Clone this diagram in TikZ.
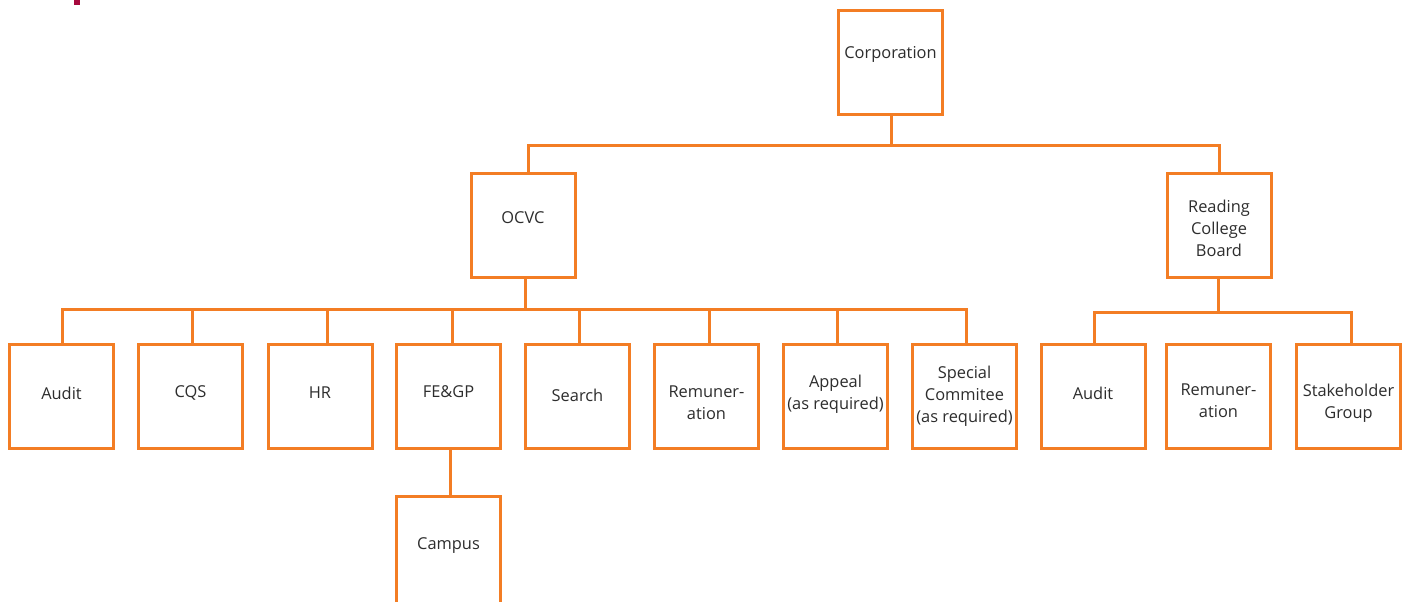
\documentclass[tikz,border=0pt]{standalone}
\usepackage{fontspec}
\setmainfont{Open Sans}
\definecolor{orng}{RGB}{243,125,36}
\definecolor{txtc}{RGB}{45,45,45}
\definecolor{markred}{RGB}{166,9,61}
\tikzset{
  box/.style={draw=orng, line width=2.25pt, minimum width=78pt, minimum height=78pt, inner sep=0pt, fill=white},
  lbl/.style={text=txtc, font=\fontsize{12.3}{16.5}\selectfont, align=center, inner sep=0pt},
  conn/.style={draw=orng, line width=2.25pt, line join=miter}
}
\begin{document}
\begin{tikzpicture}[x=0.75pt, y=-0.75pt]
\useasboundingbox (0,0) rectangle (1407,601);
\clip (0,0) rectangle (1407,601);
\fill[markred] (74,0) rectangle (80,4.5);

% boxes
\node[box] (corp) at (890.5,62.5) {};
\node[box] (ocvc) at (523,225) {};
\node[box] (rcb)  at (1219,225) {};
\node[box] (aud)  at (61.5,396.5) {};
\node[box] (cqs)  at (190.5,396.5) {};
\node[box] (hr)   at (320,396.5) {};
\node[box] (fegp) at (448.5,396.5) {};
\node[box] (srch) at (577.5,396.5) {};
\node[box] (rem)  at (706.5,396.5) {};
\node[box] (app)  at (835.5,396.5) {};
\node[box] (spc)  at (964.5,396.5) {};
\node[box] (raud) at (1093,396.5) {};
\node[box] (rrem) at (1218.5,396.5) {};
\node[box] (stk)  at (1348.5,396.5) {};
\node[box, minimum height=90pt] (camp) at (448.5,556.5) {};

% labels
\node[lbl] (corpT) at (890.5,54) {Corporation};
\node[lbl] (ocvcT) at (523,218) {OCVC};
\node[lbl] (rcbT)  at (1219,228.5) {Reading\\College\\Board};
\node[lbl] (audT)  at (61.5,393) {Audit};
\node[lbl] (cqsT)  at (190.5,393) {CQS};
\node[lbl] (hrT)   at (320,393) {HR};
\node[lbl] (fegpT) at (448.5,392) {FE\&GP};
\node[lbl] (srchT) at (577.5,395) {Search};
\node[lbl] (remT)  at (706.5,403) {Remuner-\\ation};
\node[lbl] (appT)  at (835.5,394) {Appeal\\(as required)};
\node[lbl] (spcT)  at (964.5,396) {Special\\Commitee\\(as required)};
\node[lbl] (raudT) at (1093,393) {Audit};
\node[lbl] (rremT) at (1218.5,401) {Remuner-\\ation};
\node[lbl] (stkT)  at (1348.5,403) {Stakeholder\\Group};
\node[lbl] (campT) at (448.5,546) {Campus};

% top bus
\coordinate (t1) at (528,145);
\coordinate (t2) at (891,145);
\coordinate (t3) at (1219,145);
\draw[conn] (corp.south -| t2) -- (t2);
\draw[conn] (ocvc.north -| t1) -- (t1) -- (t3) -- (rcb.north -| t3);

% middle bus
\coordinate (od) at (525,309);
\coordinate (m1) at (62,309);
\coordinate (m2) at (192,309);
\coordinate (m3) at (327,309);
\coordinate (m4) at (452,309);
\coordinate (m5) at (579,309);
\coordinate (m6) at (709,309);
\coordinate (m7) at (837,309);
\coordinate (m8) at (966,309);
\draw[conn] (ocvc.south -| od) -- (od);
\draw[conn] (aud.north -| m1) -- (m1) -- (m8) -- (spc.north -| m8);
\draw[conn] (m2) -- (cqs.north -| m2);
\draw[conn] (m3) -- (hr.north -| m3);
\draw[conn] (m4) -- (fegp.north -| m4);
\draw[conn] (m5) -- (srch.north -| m5);
\draw[conn] (m6) -- (rem.north -| m6);
\draw[conn] (m7) -- (app.north -| m7);

% right bus
\coordinate (rd) at (1218,312);
\coordinate (r1) at (1094,312);
\coordinate (r3) at (1351,312);
\draw[conn] (rcb.south -| rd) -- (rd);
\draw[conn] (raud.north -| r1) -- (r1) -- (r3) -- (stk.north -| r3);

% campus
\coordinate (cx) at (450,470);
\draw[conn] (fegp.south -| cx) -- (camp.north -| cx);
\end{tikzpicture}
\end{document}
